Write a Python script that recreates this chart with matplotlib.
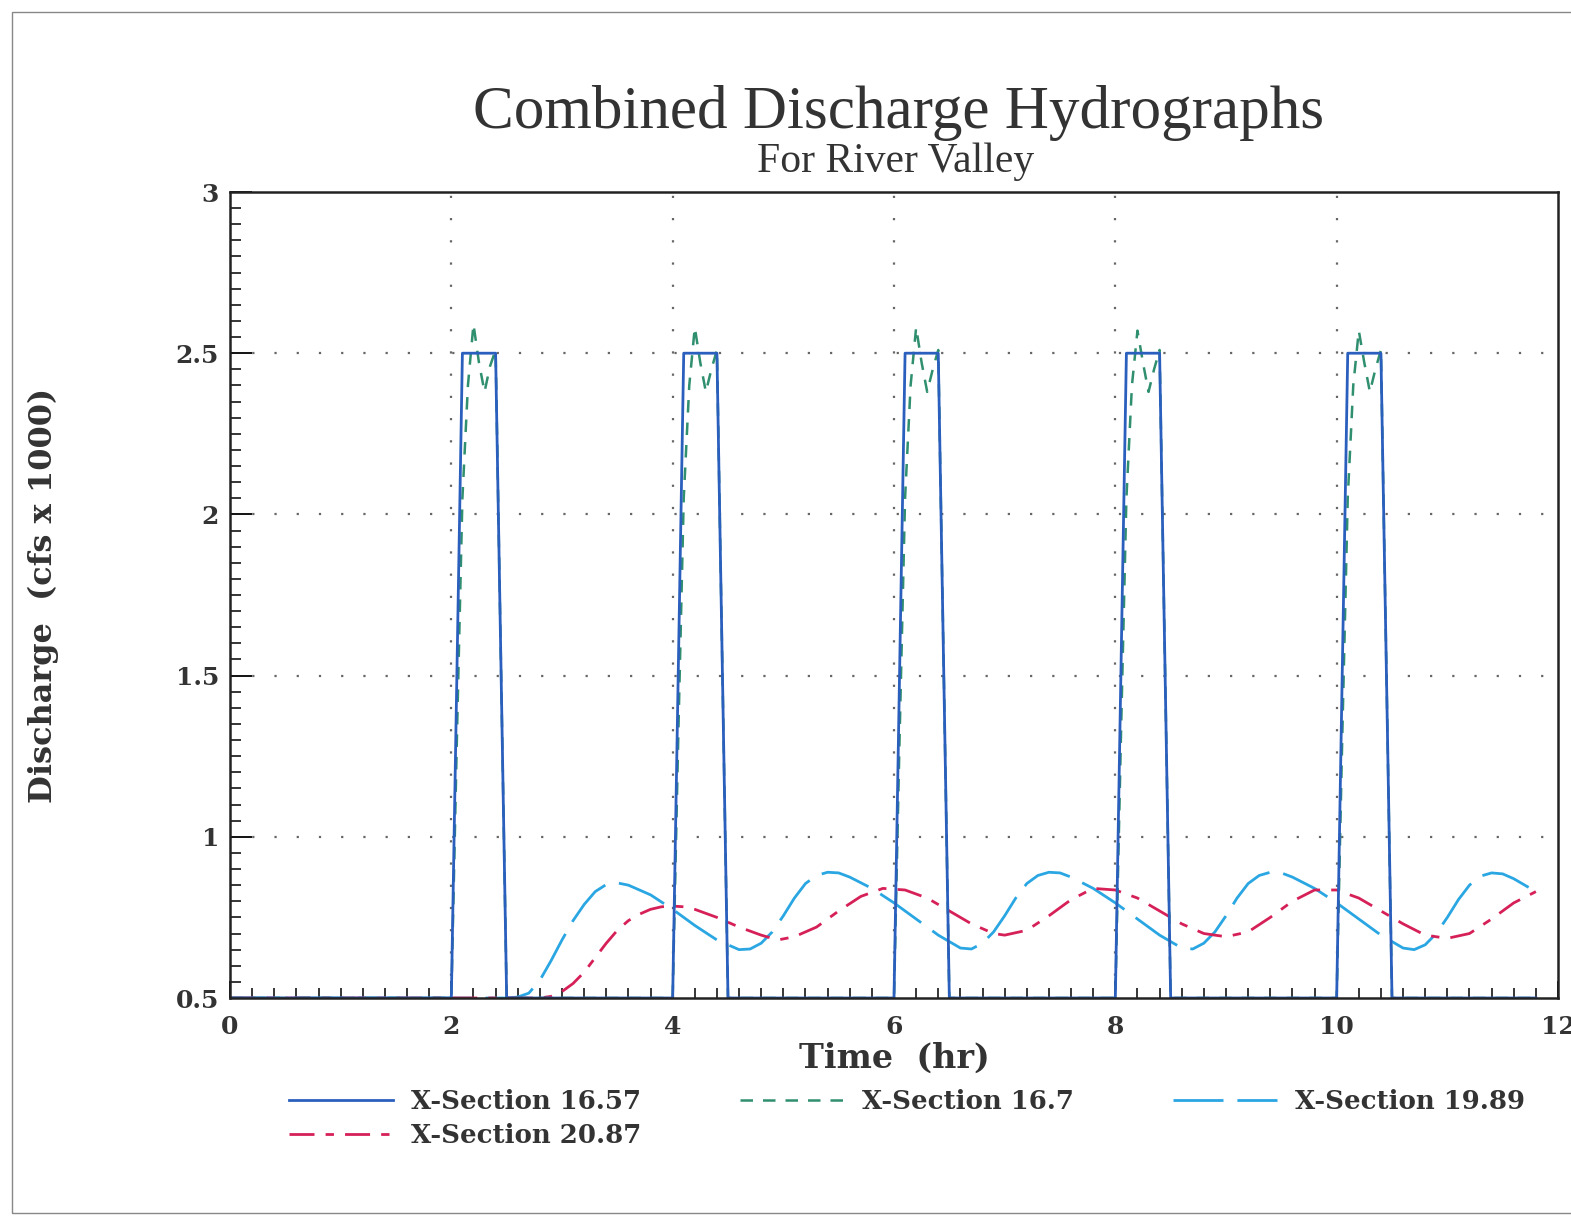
import matplotlib
matplotlib.use("Agg")
import matplotlib.pyplot as plt
from matplotlib.patches import Rectangle
from matplotlib.ticker import MultipleLocator

# ---------------- data ----------------
# X-Section 16.57 (rectangular pulses)
t_1657 = [0.0, 2.0, 2.1, 2.4, 2.5, 4.0, 4.1, 4.4, 4.5, 6.0, 6.1, 6.4, 6.5,
          8.0, 8.1, 8.4, 8.5, 10.0, 10.1, 10.4, 10.5, 11.8]
q_1657 = [0.5, 0.5, 2.5, 2.5, 0.5, 0.5, 2.5, 2.5, 0.5, 0.5, 2.5, 2.5, 0.5,
          0.5, 2.5, 2.5, 0.5, 0.5, 2.5, 2.5, 0.5, 0.5]

# X-Section 16.7 (pulses with overshoot)
t_167 = [0.0,
         2.0, 2.05, 2.1, 2.15, 2.2, 2.25, 2.3, 2.35, 2.4, 2.5,
         4.0, 4.05, 4.1, 4.15, 4.2, 4.25, 4.3, 4.35, 4.4, 4.5,
         6.0, 6.05, 6.1, 6.15, 6.2, 6.25, 6.3, 6.35, 6.4, 6.5,
         8.0, 8.05, 8.1, 8.15, 8.2, 8.25, 8.3, 8.35, 8.4, 8.5,
         10.0, 10.05, 10.1, 10.15, 10.2, 10.25, 10.3, 10.35, 10.4, 10.5,
         11.8]
q_167 = [0.5,
         0.5, 1.3, 2.05, 2.4, 2.59, 2.47, 2.38, 2.46, 2.51, 0.5,
         0.5, 1.3, 2.05, 2.4, 2.58, 2.47, 2.38, 2.45, 2.51, 0.5,
         0.5, 1.3, 2.05, 2.4, 2.58, 2.47, 2.38, 2.45, 2.51, 0.5,
         0.5, 1.3, 2.05, 2.4, 2.57, 2.47, 2.38, 2.45, 2.51, 0.5,
         0.5, 1.3, 2.05, 2.4, 2.57, 2.47, 2.38, 2.45, 2.51, 0.5,
         0.5]

# X-Section 19.89
t_1989 = [0.0, 2.5, 2.6, 2.7, 2.8, 2.9, 3.0, 3.1, 3.2, 3.3, 3.4, 3.5, 3.6,
          3.8, 4.0, 4.2, 4.4, 4.6, 4.7, 4.8, 4.9, 5.0, 5.1, 5.2, 5.3, 5.4,
          5.5, 5.6, 5.8, 6.0, 6.2, 6.4, 6.6, 6.7, 6.8, 6.9, 7.0, 7.1, 7.2,
          7.3, 7.4, 7.5, 7.6, 7.8, 8.0, 8.2, 8.4, 8.6, 8.7, 8.8, 8.9, 9.0,
          9.1, 9.2, 9.3, 9.4, 9.5, 9.6, 9.8, 10.0, 10.2, 10.4, 10.6, 10.7,
          10.8, 10.9, 11.0, 11.1, 11.2, 11.3, 11.4, 11.5, 11.6, 11.8]
q_1989 = [0.5, 0.5, 0.503, 0.515, 0.555, 0.615, 0.68, 0.74, 0.79, 0.83,
          0.852, 0.857, 0.85, 0.82, 0.775, 0.725, 0.68, 0.65, 0.652, 0.67,
          0.705, 0.755, 0.81, 0.855, 0.88, 0.89, 0.888, 0.875, 0.84, 0.795,
          0.745, 0.695, 0.655, 0.652, 0.67, 0.705, 0.755, 0.81, 0.855, 0.88,
          0.89, 0.888, 0.875, 0.84, 0.795, 0.745, 0.695, 0.655, 0.652, 0.67,
          0.705, 0.755, 0.81, 0.855, 0.88, 0.89, 0.888, 0.875, 0.84, 0.795,
          0.745, 0.695, 0.655, 0.65, 0.665, 0.70, 0.75, 0.805, 0.85, 0.878,
          0.888, 0.885, 0.87, 0.83]

# X-Section 20.87
t_2087 = [0.0, 2.8, 2.9, 3.0, 3.1, 3.2, 3.3, 3.4, 3.5, 3.6, 3.7, 3.8, 3.9,
          4.0, 4.1, 4.2, 4.4, 4.6, 4.8, 4.95, 5.1, 5.3, 5.5, 5.7, 5.9, 6.1,
          6.3, 6.5, 6.7, 6.9, 7.0, 7.2, 7.4, 7.6, 7.8, 8.0, 8.2, 8.4, 8.6,
          8.8, 9.0, 9.2, 9.4, 9.6, 9.8, 10.0, 10.2, 10.4, 10.6, 10.8, 11.0,
          11.2, 11.4, 11.6, 11.8]
q_2087 = [0.5, 0.5, 0.505, 0.52, 0.545, 0.58, 0.625, 0.67, 0.71, 0.74, 0.76,
          0.775, 0.783, 0.785, 0.783, 0.775, 0.75, 0.72, 0.695, 0.68, 0.69,
          0.72, 0.77, 0.815, 0.84, 0.835, 0.81, 0.77, 0.73, 0.70, 0.695,
          0.71, 0.755, 0.805, 0.84, 0.835, 0.81, 0.77, 0.73, 0.70, 0.69,
          0.705, 0.75, 0.80, 0.835, 0.835, 0.81, 0.77, 0.73, 0.695, 0.685,
          0.70, 0.745, 0.795, 0.83]

labels = ["X-Section 16.57", "X-Section 16.7", "X-Section 19.89", "X-Section 20.87"]
x_ticks = [0, 2, 4, 6, 8, 10, 12]
y_ticks = [0.5, 1, 1.5, 2, 2.5, 3]
y_tick_labels = ["0.5", "1", "1.5", "2", "2.5", "3"]

# ---------------- styling ----------------
c_blue = "#2b5fbe"
c_green = "#2f8f6e"
c_light = "#2aa6e2"
c_red = "#d62058"
serif = ["DejaVu Serif"]
title_font = ["Liberation Serif"]

fig = plt.figure(figsize=(15.71, 12.2), dpi=100)
fig.patch.set_facecolor("white")

# page border of scanned sheet
fig.patches.append(Rectangle((12 / 1571, 7 / 1220), 1.2, 1 - 19 / 1220,
                             transform=fig.transFigure, fill=False,
                             edgecolor="#888888", linewidth=1.0))

ax = fig.add_axes([230 / 1571, 1 - 998 / 1220, (1558 - 230) / 1571, (998 - 192) / 1220])

l_light, = ax.plot(t_1989, q_1989, color=c_light, lw=2.0, dashes=(18, 5))
l_red, = ax.plot(t_2087, q_2087, color=c_red, lw=2.0, dashes=(9, 4, 3, 4))
l_green, = ax.plot(t_167, q_167, color=c_green, lw=1.8, dashes=(5, 4))
l_blue, = ax.plot(t_1657, q_1657, color=c_blue, lw=2.0)

ax.set_xlim(0, 12)
ax.set_ylim(0.5, 3)
ax.set_xticks(x_ticks)
ax.set_xticklabels([str(v) for v in x_ticks])
ax.set_yticks(y_ticks)
ax.set_yticklabels(y_tick_labels)
ax.xaxis.set_minor_locator(MultipleLocator(0.2))
ax.yaxis.set_minor_locator(MultipleLocator(0.05))
ax.tick_params(axis="both", which="both", direction="in", top=False, right=False,
               color="black")
ax.tick_params(axis="y", which="major", length=16, width=1.3, pad=8)
ax.tick_params(axis="y", which="minor", length=8, width=1.1)
ax.tick_params(axis="x", which="major", length=12, width=1.3, pad=12)
ax.tick_params(axis="x", which="minor", length=7, width=1.1)
for lab in ax.get_xticklabels() + ax.get_yticklabels():
    lab.set_fontfamily(serif)
    lab.set_fontsize(18)
    lab.set_fontweight("bold")
    lab.set_color("#333333")

for s in ax.spines.values():
    s.set_linewidth(1.8)
    s.set_color("#222222")

# dotted grid
for gx in [2, 4, 6, 8, 10]:
    ax.axvline(gx, color="#666666", lw=1.6, dashes=(1, 9), zorder=0)
for gy in [1, 1.5, 2, 2.5]:
    ax.axhline(gy, color="#666666", lw=1.6, dashes=(1, 9), zorder=0)

ax.set_xlabel("Time  (hr)", fontsize=24, family=serif, fontweight="bold",
              color="#333333", labelpad=2)
ax.set_ylabel("Discharge  (cfs x 1000)", fontsize=23, family=serif,
              fontweight="bold", color="#333333", labelpad=84)

fig.text(899 / 1571, 1 - 128 / 1220, "Combined Discharge Hydrographs",
         ha="center", va="baseline", fontsize=44, family=title_font, color="#333333")
fig.text(896 / 1571, 1 - 172 / 1220, "For River Valley",
         ha="center", va="baseline", fontsize=30, family=title_font, color="#333333")

handles = [l_blue, l_red, l_green, l_light]
hlabels = [labels[0], labels[3], labels[1], labels[2]]
leg = fig.legend(handles, hlabels, ncol=3, loc="upper left",
                 bbox_to_anchor=(266 / 1571, 1 - 1066 / 1220),
                 frameon=False, handlelength=4.0, columnspacing=3.8,
                 handletextpad=0.7, labelspacing=0.32,
                 prop={"family": serif, "size": 18.7, "weight": "bold"})
for t in leg.get_texts():
    t.set_color("#333333")

fig.savefig("out.png", dpi=100, facecolor="white")
